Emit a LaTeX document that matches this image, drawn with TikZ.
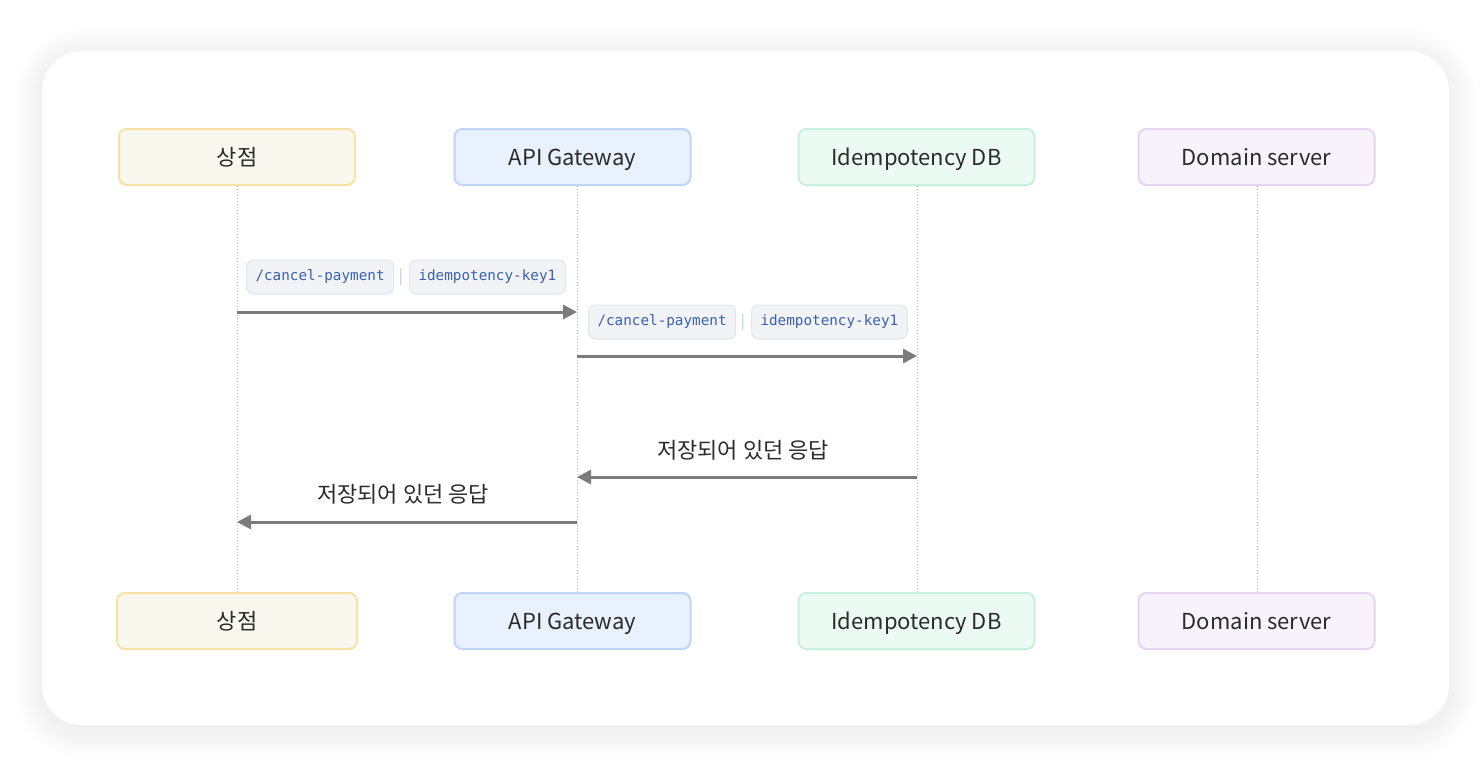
\documentclass[tikz,border=0pt]{standalone}
\usepackage{fontspec}
\setmainfont{Noto Sans CJK KR}
\setmonofont{DejaVu Sans Mono}
\usetikzlibrary{arrows.meta}
\definecolor{txt}{HTML}{2B2B2B}
\definecolor{lifeln}{HTML}{BDBDBD}
\definecolor{arr}{HTML}{7C7C7C}
\definecolor{chipfill}{HTML}{F1F3F6}
\definecolor{chipdraw}{HTML}{E2E5E9}
\definecolor{chiptxt}{HTML}{3A60AC}
\definecolor{sepc}{HTML}{B9C6D9}
\definecolor{sfill}{HTML}{FAF7EF}\definecolor{sdraw}{HTML}{F7E2A6}
\definecolor{gfill}{HTML}{E9F1FD}\definecolor{gdraw}{HTML}{BCD6F4}
\definecolor{dfill}{HTML}{EBFBF4}\definecolor{ddraw}{HTML}{C8F0DD}
\definecolor{mfill}{HTML}{F7F2FB}\definecolor{mdraw}{HTML}{E5D5F2}
\tikzset{
  actor/.style={rounded corners=8pt, line width=2pt, minimum width=236pt, minimum height=56pt,
    inner sep=0pt, text height=22pt, text depth=6pt, text=txt, font=\fontsize{22}{26}\selectfont},
  lifeline/.style={draw=lifeln, line width=1pt, dotted},
  msg/.style={draw=arr, line width=3pt, -{Triangle[length=14pt,width=14pt]}},
  chip/.style={rounded corners=7pt, fill=chipfill, draw=chipdraw, line width=1pt,
    minimum height=34pt, inner xsep=9pt, inner ysep=0pt, text=chiptxt,
    font=\ttfamily\fontsize{14.3}{16}\selectfont, anchor=west},
  sepbar/.style={text=sepc, font=\fontsize{15}{18}\selectfont, inner sep=0pt},
  reply/.style={text=txt, font=\fontsize{22}{26}\selectfont, inner sep=0pt}
}
\begin{document}
\begin{tikzpicture}[x=1pt,y=-1pt]
\useasboundingbox (0,0) rectangle (1484,772);
\fill[white] (0,0) rectangle (1484,772);
% soft shadow
\foreach \i in {2,4,...,28}{
  \fill[black, opacity=0.004, rounded corners={40pt+\i pt}]
    ({42-\i},{51-\i+5}) rectangle ({1449+\i},{725+\i+5});
}
\fill[white, rounded corners=40pt] (42,51) rectangle (1449,725);
% actors top
\node[actor, fill=sfill, draw=sdraw] (s1) at (237,157) {상점};
\node[actor, fill=gfill, draw=gdraw] (g1) at (572.5,157) {API Gateway};
\node[actor, fill=dfill, draw=ddraw] (d1) at (916.5,157) {Idempotency DB};
\node[actor, fill=mfill, draw=mdraw] (m1) at (1256.5,157) {Domain server};
% actors bottom
\node[actor, fill=sfill, draw=sdraw, minimum width=240pt] (s2) at (237,621) {상점};
\node[actor, fill=gfill, draw=gdraw] (g2) at (572.5,621) {API Gateway};
\node[actor, fill=dfill, draw=ddraw] (d2) at (916.5,621) {Idempotency DB};
\node[actor, fill=mfill, draw=mdraw] (m2) at (1256.5,621) {Domain server};
% lifelines
\coordinate (sT) at (237,186); \coordinate (sB) at (237,592);
\coordinate (gT) at (577,186); \coordinate (gB) at (577,592);
\coordinate (dT) at (917,186); \coordinate (dB) at (917,592);
\coordinate (mT) at (1257,186); \coordinate (mB) at (1257,592);
\draw[lifeline] (sT) -- (sB);
\draw[lifeline] (gT) -- (gB);
\draw[lifeline] (dT) -- (dB);
\draw[lifeline] (mT) -- (mB);
% message 1
\coordinate (a1s) at (237,312); \coordinate (a1e) at (577,312);
\draw[msg] (a1s) -- (a1e);
\node[chip] (c11) at (246,277) {/cancel-payment};
\node[sepbar] (p1) at (401,277) {|};
\node[chip] (c12) at (409,277) {idempotency-key1};
% message 2
\coordinate (a2s) at (577,356); \coordinate (a2e) at (917,356);
\draw[msg] (a2s) -- (a2e);
\node[chip] (c21) at (588,322) {/cancel-payment};
\node[sepbar] (p2) at (743,322) {|};
\node[chip] (c22) at (751,322) {idempotency-key1};
% message 3
\coordinate (a3s) at (917,477); \coordinate (a3e) at (577,477);
\draw[msg] (a3s) -- (a3e);
\node[reply] (r3) at (743,450) {저장되어 있던 응답};
% message 4
\coordinate (a4s) at (577,522); \coordinate (a4e) at (237,522);
\draw[msg] (a4s) -- (a4e);
\node[reply] (r4) at (403,494) {저장되어 있던 응답};
\end{tikzpicture}
\end{document}
